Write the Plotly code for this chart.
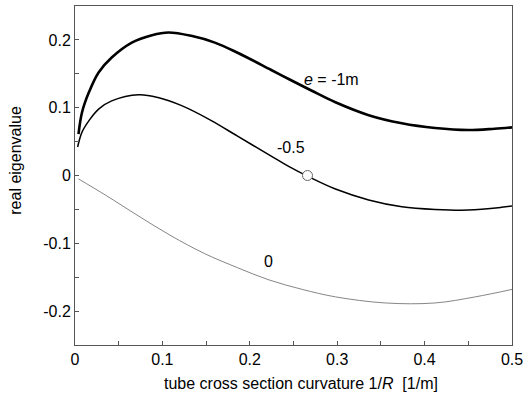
import plotly.graph_objects as go

# Real eigenvalue vs. tube cross-section curvature for three eccentricities e
x_e1 = [0.004, 0.008, 0.016, 0.027, 0.042, 0.065, 0.088, 0.107, 0.133, 0.160, 0.186, 0.224,
        0.245, 0.271, 0.298, 0.336, 0.374, 0.412, 0.45, 0.48, 0.5]
y_e1 = [0.061, 0.093, 0.123, 0.152, 0.174, 0.196, 0.207, 0.211, 0.206, 0.196, 0.181, 0.156,
        0.142, 0.125, 0.108, 0.089, 0.077, 0.070, 0.067, 0.069, 0.071]

x_e05 = [0.003, 0.008, 0.016, 0.027, 0.042, 0.073, 0.095, 0.122, 0.156, 0.186, 0.224,
         0.245, 0.266, 0.298, 0.336, 0.374, 0.412, 0.45, 0.488, 0.5]
y_e05 = [0.042, 0.064, 0.081, 0.098, 0.110, 0.119, 0.115, 0.103, 0.081, 0.058, 0.029,
         0.013, -0.001, -0.020, -0.036, -0.046, -0.050, -0.051, -0.047, -0.045]

x_e0 = [0.004, 0.035, 0.073, 0.110, 0.148, 0.186, 0.222, 0.260, 0.298, 0.355, 0.412, 0.458, 0.5]
y_e0 = [-0.005, -0.029, -0.060, -0.089, -0.115, -0.136, -0.154, -0.168, -0.179, -0.188, -0.188,
        -0.179, -0.168]

# Marked point on the e = -0.5 curve (zero crossing)
x_mark = [0.266]
y_mark = [0.0]

labels = ["<i>e</i> = -1m", "-0.5", "0"]
label_x = [0.294, 0.247, 0.221]
label_y = [0.142, 0.041, -0.127]

FONT = "Liberation Sans, Arial, Helvetica"

fig = go.Figure()
fig.add_trace(go.Scatter(x=x_e1, y=y_e1, mode="lines",
                         line=dict(color="black", width=2.6, shape="spline", smoothing=1.0)))
fig.add_trace(go.Scatter(x=x_e05, y=y_e05, mode="lines",
                         line=dict(color="black", width=1.5, shape="spline", smoothing=1.0)))
fig.add_trace(go.Scatter(x=x_e0, y=y_e0, mode="lines",
                         line=dict(color="#666666", width=0.8, shape="spline", smoothing=1.0)))
fig.add_trace(go.Scatter(x=x_mark, y=y_mark, mode="markers",
                         marker=dict(size=10, color="white", line=dict(color="#666666", width=1))))

for t, lx, ly in zip(labels, label_x, label_y):
    fig.add_annotation(x=lx, y=ly, text=t, showarrow=False,
                       font=dict(size=16, color="black", family=FONT))

axis_common = dict(
    showline=True, linecolor="#555555", linewidth=1, mirror=True,
    showgrid=False, zeroline=False,
    ticks="inside", ticklen=4, tickcolor="#555555",
    minor=dict(ticks="inside", ticklen=4, dtick=0.05, tickcolor="#555555"),
    tickfont=dict(size=16, color="black", family=FONT),
)

fig.update_xaxes(range=[0, 0.5], tickvals=[0, 0.1, 0.2, 0.3, 0.4, 0.5],
                 ticktext=["0", "0.1", "0.2", "0.3", "0.4", "0.5"], **axis_common)
fig.update_yaxes(range=[-0.25, 0.25], tickvals=[-0.2, -0.1, 0, 0.1, 0.2],
                 ticktext=["-0.2", "-0.1", "0", "0.1", "0.2"], **axis_common)

fig.add_annotation(xref="paper", yref="paper", x=0.517, y=-0.115, yanchor="middle",
                   text="tube cross section curvature 1/<i>R</i>  [1/m]", showarrow=False,
                   font=dict(size=16, color="black", family=FONT))
fig.add_annotation(xref="paper", yref="paper", x=-0.137, y=0.544, xanchor="center",
                   yanchor="middle", textangle=-90,
                   text="real eigenvalue", showarrow=False,
                   font=dict(size=16, color="black", family=FONT))

fig.update_layout(
    width=528, height=396,
    margin=dict(l=75, r=14, t=5, b=51),
    paper_bgcolor="white", plot_bgcolor="white",
    showlegend=False,
)

fig.write_html("out.html")
